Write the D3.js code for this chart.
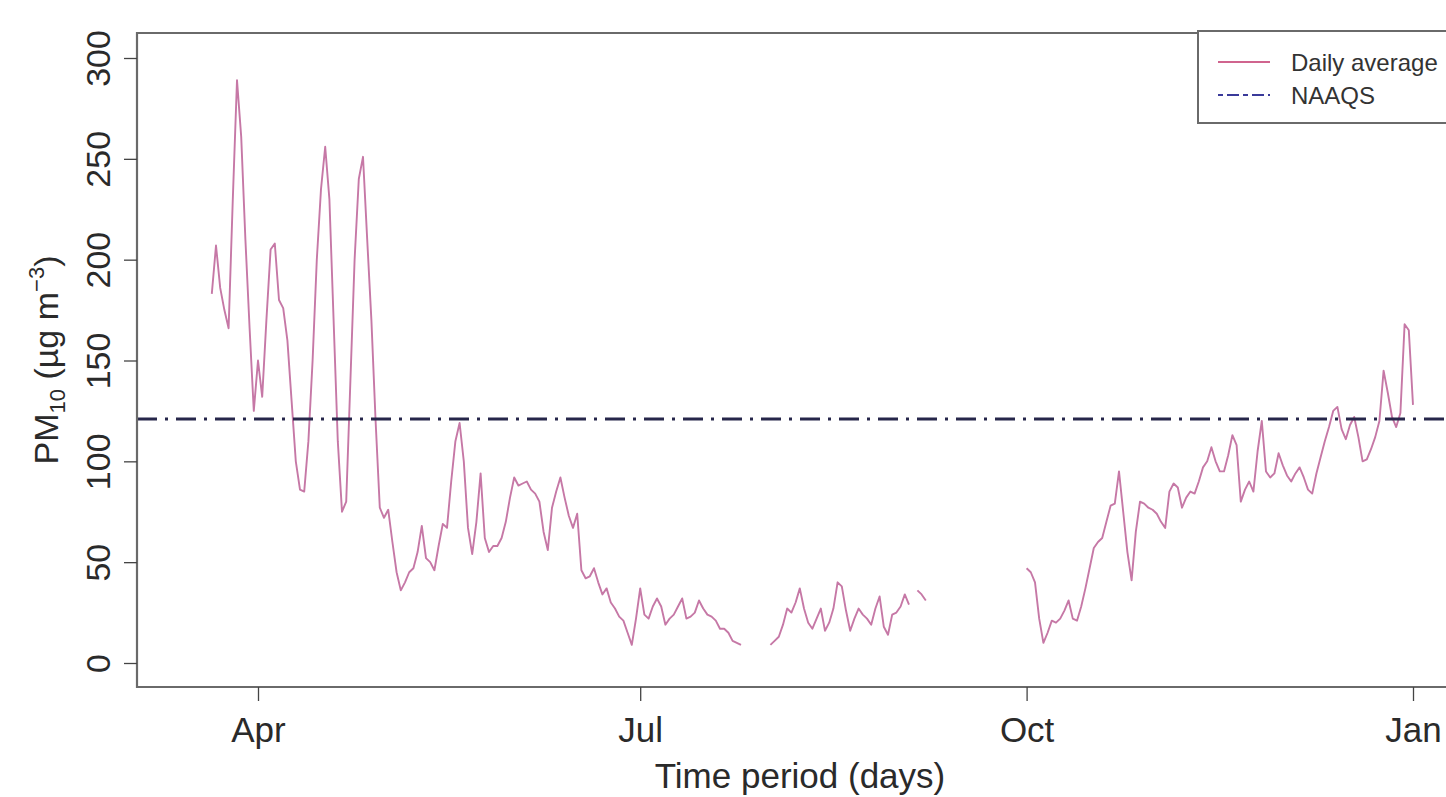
<!DOCTYPE html>
<html>
<head>
<meta charset="utf-8">
<script src="https://cdn.jsdelivr.net/npm/d3@7"></script>
<style>
  html, body { margin: 0; padding: 0; background: #fff; }
  svg { display: block; font-family: "Liberation Sans", Arial, sans-serif; }
</style>
</head>
<body>
<svg id="chart" width="1446" height="797"></svg>
<script>
// ---- Data (daily average PM10, µg m^-3) ----
const marValues = [183, 207, 186, 175, 166, 230, 289, 261, 210, 166, 125]; // Mar 21-31
const aprValues = [150, 132, 170, 205, 208, 180, 176, 160, 130, 100,
                   86, 85, 110, 150, 200, 235, 256, 230, 170, 110,
                   75, 80, 140, 200, 240, 251, 210, 170, 120, 77];
const mayValues = [72, 76, 60, 45, 36, 40, 45, 47, 55, 68,
                   52, 50, 46, 58, 69, 67, 90, 110, 119, 100,
                   67, 54, 70, 94, 62, 55, 58, 58, 62, 70, 82];
const junValues = [92, 88, 89, 90, 86, 84, 80, 65, 56, 77,
                   85, 92, 82, 73, 67, 74, 46, 42, 43, 47,
                   40, 34, 37, 30, 27, 23, 21, 15, 9, 22];
const julValues = [37, 24, 22, 28, 32, 28, 19, 22, 24, 28,
                   32, 22, 23, 25, 31, 27, 24, 23, 21, 17,
                   17, 15, 11, 10, 9, null, null, null, null, null, null];
const augValues = [9, 11, 13, 19, 27, 25, 30, 37, 27, 20,
                   17, 22, 27, 16, 20, 27, 40, 38, 26, 16,
                   22, 27, 24, 22, 19, 27, 33, 18, 14, 24, 25];
const sepValues = [28, 34, 29, null, 36, 34, 31, null, null, null,
                   null, null, null, null, null, null, null, null, null, null,
                   null, null, null, null, null, null, null, null, null, null];
const octValues = [47, 45, 40, 22, 10, 15, 21, 20, 22, 26,
                   31, 22, 21, 28, 37, 47, 57, 60, 62, 70,
                   78, 79, 95, 75, 55, 41, 65, 80, 79, 77, 76];
const novValues = [74, 70, 67, 85, 89, 87, 77, 82, 85, 84,
                   90, 97, 100, 107, 100, 95, 95, 103, 113, 108,
                   80, 86, 90, 85, 105, 120, 95, 92, 94, 104];
const decValues = [98, 93, 90, 94, 97, 92, 86, 84, 94, 102,
                   110, 117, 125, 127, 116, 111, 118, 122, 112, 100,
                   101, 106, 112, 120, 145, 134, 122, 117, 124, 168, 165];
const janValues = [128];

const monthStarts = ["2015-03-21", "2015-04-01", "2015-05-01", "2015-06-01", "2015-07-01",
                     "2015-08-01", "2015-09-01", "2015-10-01", "2015-11-01", "2015-12-01", "2016-01-01"];
const monthBlocks = [marValues, aprValues, mayValues, junValues, julValues,
                     augValues, sepValues, octValues, novValues, decValues, janValues];

const naaqsValue = 121;
const yTicks = [0, 50, 100, 150, 200, 250, 300];
const xTickDates = ["2015-04-01", "2015-07-01", "2015-10-01", "2016-01-01"];
const xTickLabels = ["Apr", "Jul", "Oct", "Jan"];
const legendLabels = ["Daily average", "NAAQS"];

// ---- Build daily records ----
const parse = d3.utcParse("%Y-%m-%d");
const records = [];
monthBlocks.forEach((vals, i) => {
  const start = parse(monthStarts[i]);
  vals.forEach((v, k) => records.push({ date: d3.utcDay.offset(start, k), v: v }));
});

// ---- Layout ----
const svg = d3.select("#chart");
const plotLeft = 137, plotTop = 33, plotBottom = 687, plotRight = 1480;

const x = d3.scaleUtc()
  .domain([parse("2015-04-01"), parse("2016-01-01")])
  .range([258, 1413]);
const y = d3.scaleLinear().domain([0, 300]).range([663, 58]);

const textColor = "#2a2a2a";
const axisColor = "#6a6a6a";
const lineColor = "#c678a6";
const naaqsColor = "#26264a";

// Daily average line
const line = d3.line()
  .defined(d => d.v != null)
  .x(d => x(d.date))
  .y(d => y(d.v));

svg.append("path")
  .datum(records)
  .attr("d", line)
  .attr("fill", "none")
  .attr("stroke", lineColor)
  .attr("stroke-width", 1.9)
  .attr("stroke-linejoin", "round");

// NAAQS line
svg.append("line")
  .attr("x1", plotLeft).attr("x2", plotRight)
  .attr("y1", y(naaqsValue)).attr("y2", y(naaqsValue))
  .attr("stroke", naaqsColor)
  .attr("stroke-width", 3.2)
  .attr("stroke-dasharray", "20 8 3 8");

// Plot frame (left, top, bottom)
svg.append("path")
  .attr("d", `M${plotRight},${plotTop}H${plotLeft}V${plotBottom}H${plotRight}`)
  .attr("fill", "none")
  .attr("stroke", axisColor)
  .attr("stroke-width", 2.2);

// X axis
const xAxis = svg.append("g")
  .attr("transform", `translate(0,${plotBottom})`)
  .call(d3.axisBottom(x)
    .tickValues(xTickDates.map(parse))
    .tickFormat((d, i) => xTickLabels[i])
    .tickSize(14)
    .tickPadding(16));
xAxis.select(".domain").remove();
xAxis.selectAll(".tick line").attr("stroke", "#444").attr("stroke-width", 1.3);
xAxis.selectAll(".tick text")
  .attr("fill", textColor)
  .attr("font-size", 35)
  .attr("font-family", "Liberation Sans, Arial, sans-serif");

// Y axis
const yAxis = svg.append("g")
  .attr("transform", `translate(${plotLeft},0)`)
  .call(d3.axisLeft(y).tickValues(yTicks).tickSize(13).tickFormat(d3.format("d")));
yAxis.select(".domain").remove();
yAxis.selectAll(".tick line").attr("stroke", "#444").attr("stroke-width", 1.3);
yAxis.selectAll(".tick text")
  .attr("fill", textColor)
  .attr("font-size", 34)
  .attr("font-family", "Liberation Sans, Arial, sans-serif")
  .attr("text-anchor", "middle")
  .attr("x", null).attr("dy", null)
  .attr("transform", "translate(-27,0) rotate(-90)");

// Axis titles
svg.append("text")
  .attr("x", 800).attr("y", 788)
  .attr("text-anchor", "middle")
  .attr("font-size", 35)
  .attr("fill", textColor)
  .text("Time period (days)");

const yTitle = svg.append("text")
  .attr("transform", `translate(58,${(plotTop + plotBottom) / 2}) rotate(-90)`)
  .attr("text-anchor", "middle")
  .attr("font-size", 34)
  .attr("fill", textColor);
yTitle.append("tspan").text("PM");
yTitle.append("tspan").attr("font-size", 22).attr("dy", 7).text("10");
yTitle.append("tspan").attr("dy", -7).text(" (µg m");
yTitle.append("tspan").attr("font-size", 22).attr("dy", -14).text("−3");
yTitle.append("tspan").attr("dy", 14).text(")");

// Legend
const lg = svg.append("g");
lg.append("rect")
  .attr("x", 1198).attr("y", 31)
  .attr("width", 300).attr("height", 92)
  .attr("fill", "#fff")
  .attr("stroke", axisColor)
  .attr("stroke-width", 2);
const legendY = [62, 95];
lg.append("line")
  .attr("x1", 1218).attr("x2", 1270)
  .attr("y1", legendY[0]).attr("y2", legendY[0])
  .attr("stroke", "#d0648e").attr("stroke-width", 2.2);
lg.append("line")
  .attr("x1", 1218).attr("x2", 1270)
  .attr("y1", legendY[1]).attr("y2", legendY[1])
  .attr("stroke", "#3a3a9a").attr("stroke-width", 2.2)
  .attr("stroke-dasharray", "5 4 12 4");
legendLabels.forEach((t, i) => {
  lg.append("text")
    .attr("x", 1291).attr("y", legendY[i] + 9)
    .attr("font-size", 24)
    .attr("fill", "#333")
    .text(t);
});
</script>
</body>
</html>
